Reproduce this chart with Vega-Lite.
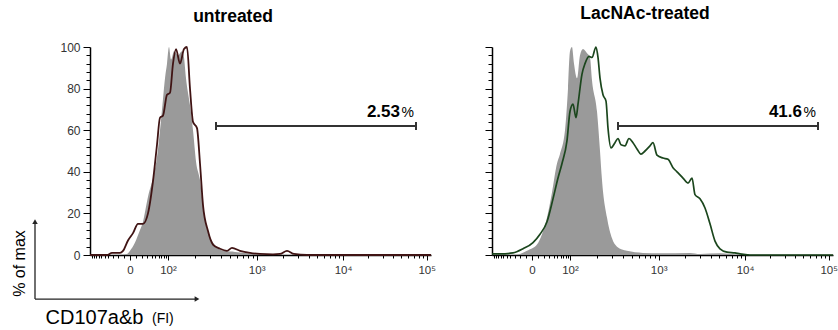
{
  "$schema": "https://vega.github.io/schema/vega-lite/v6.json",
  "background": "white",
  "padding": {"left": 11, "top": 4, "right": 2, "bottom": 2},
  "spacing": 61,
  "bounds": "flush",
  "config": {
    "font": "Liberation Sans",
    "view": {"stroke": null},
    "axis": {
      "grid": false,
      "domainColor": "#000000",
      "domainWidth": 1.5,
      "tickColor": "#000000",
      "tickWidth": 1,
      "labelFont": "Liberation Sans",
      "labelFontSize": 11.5,
      "labelColor": "#333333",
      "labelOverlap": false,
      "labelFlush": false,
      "titleFont": "Liberation Sans",
      "titleFontWeight": "normal",
      "titleColor": "#000000"
    },
    "title": {
      "font": "Liberation Sans",
      "fontSize": 17.5,
      "fontWeight": "bold",
      "color": "#000000",
      "anchor": "middle",
      "frame": "group",
      "baseline": "bottom"
    }
  },
  "datasets": {
    "hist": [
      {"panel": "untreated", "series": "control", "ch": 0, "pct": 0},
      {"panel": "untreated", "series": "control", "ch": 90, "pct": 0},
      {"panel": "untreated", "series": "control", "ch": 111, "pct": 0.5},
      {"panel": "untreated", "series": "control", "ch": 120, "pct": 2},
      {"panel": "untreated", "series": "control", "ch": 135, "pct": 6},
      {"panel": "untreated", "series": "control", "ch": 150, "pct": 12},
      {"panel": "untreated", "series": "control", "ch": 159, "pct": 16},
      {"panel": "untreated", "series": "control", "ch": 174, "pct": 28},
      {"panel": "untreated", "series": "control", "ch": 189, "pct": 37},
      {"panel": "untreated", "series": "control", "ch": 201, "pct": 47},
      {"panel": "untreated", "series": "control", "ch": 210, "pct": 60},
      {"panel": "untreated", "series": "control", "ch": 219, "pct": 75},
      {"panel": "untreated", "series": "control", "ch": 225, "pct": 85},
      {"panel": "untreated", "series": "control", "ch": 231, "pct": 92},
      {"panel": "untreated", "series": "control", "ch": 237, "pct": 100},
      {"panel": "untreated", "series": "control", "ch": 243, "pct": 94},
      {"panel": "untreated", "series": "control", "ch": 252, "pct": 98},
      {"panel": "untreated", "series": "control", "ch": 264, "pct": 96},
      {"panel": "untreated", "series": "control", "ch": 276, "pct": 98},
      {"panel": "untreated", "series": "control", "ch": 282, "pct": 95},
      {"panel": "untreated", "series": "control", "ch": 288, "pct": 85},
      {"panel": "untreated", "series": "control", "ch": 300, "pct": 72},
      {"panel": "untreated", "series": "control", "ch": 309, "pct": 60},
      {"panel": "untreated", "series": "control", "ch": 318, "pct": 45},
      {"panel": "untreated", "series": "control", "ch": 330, "pct": 36},
      {"panel": "untreated", "series": "control", "ch": 342, "pct": 20},
      {"panel": "untreated", "series": "control", "ch": 354, "pct": 11},
      {"panel": "untreated", "series": "control", "ch": 369, "pct": 6},
      {"panel": "untreated", "series": "control", "ch": 384, "pct": 3},
      {"panel": "untreated", "series": "control", "ch": 405, "pct": 2},
      {"panel": "untreated", "series": "control", "ch": 435, "pct": 1.5},
      {"panel": "untreated", "series": "control", "ch": 465, "pct": 1},
      {"panel": "untreated", "series": "control", "ch": 510, "pct": 0.5},
      {"panel": "untreated", "series": "control", "ch": 540, "pct": 0},
      {"panel": "untreated", "series": "control", "ch": 1023, "pct": 0},

      {"panel": "untreated", "series": "sample", "ch": 0, "pct": 0},
      {"panel": "untreated", "series": "sample", "ch": 51, "pct": 0},
      {"panel": "untreated", "series": "sample", "ch": 66, "pct": 1},
      {"panel": "untreated", "series": "sample", "ch": 90, "pct": 1},
      {"panel": "untreated", "series": "sample", "ch": 99, "pct": 2},
      {"panel": "untreated", "series": "sample", "ch": 114, "pct": 7},
      {"panel": "untreated", "series": "sample", "ch": 129, "pct": 10.5},
      {"panel": "untreated", "series": "sample", "ch": 144, "pct": 15},
      {"panel": "untreated", "series": "sample", "ch": 159, "pct": 15},
      {"panel": "untreated", "series": "sample", "ch": 174, "pct": 20},
      {"panel": "untreated", "series": "sample", "ch": 189, "pct": 35.5},
      {"panel": "untreated", "series": "sample", "ch": 201, "pct": 53},
      {"panel": "untreated", "series": "sample", "ch": 210, "pct": 66},
      {"panel": "untreated", "series": "sample", "ch": 219, "pct": 67},
      {"panel": "untreated", "series": "sample", "ch": 231, "pct": 77},
      {"panel": "untreated", "series": "sample", "ch": 240, "pct": 78},
      {"panel": "untreated", "series": "sample", "ch": 249, "pct": 92},
      {"panel": "untreated", "series": "sample", "ch": 258, "pct": 99},
      {"panel": "untreated", "series": "sample", "ch": 270, "pct": 92},
      {"panel": "untreated", "series": "sample", "ch": 282, "pct": 99},
      {"panel": "untreated", "series": "sample", "ch": 291, "pct": 100},
      {"panel": "untreated", "series": "sample", "ch": 300, "pct": 80},
      {"panel": "untreated", "series": "sample", "ch": 309, "pct": 64},
      {"panel": "untreated", "series": "sample", "ch": 321, "pct": 61},
      {"panel": "untreated", "series": "sample", "ch": 330, "pct": 44},
      {"panel": "untreated", "series": "sample", "ch": 339, "pct": 24},
      {"panel": "untreated", "series": "sample", "ch": 354, "pct": 11.5},
      {"panel": "untreated", "series": "sample", "ch": 369, "pct": 5},
      {"panel": "untreated", "series": "sample", "ch": 390, "pct": 3},
      {"panel": "untreated", "series": "sample", "ch": 411, "pct": 2},
      {"panel": "untreated", "series": "sample", "ch": 426, "pct": 3.4},
      {"panel": "untreated", "series": "sample", "ch": 450, "pct": 2},
      {"panel": "untreated", "series": "sample", "ch": 480, "pct": 1},
      {"panel": "untreated", "series": "sample", "ch": 510, "pct": 0.5},
      {"panel": "untreated", "series": "sample", "ch": 549, "pct": 0.3},
      {"panel": "untreated", "series": "sample", "ch": 570, "pct": 0.5},
      {"panel": "untreated", "series": "sample", "ch": 591, "pct": 2},
      {"panel": "untreated", "series": "sample", "ch": 612, "pct": 0.5},
      {"panel": "untreated", "series": "sample", "ch": 651, "pct": 0},
      {"panel": "untreated", "series": "sample", "ch": 1023, "pct": 0},

      {"panel": "LacNAc-treated", "series": "control", "ch": 0, "pct": 0},
      {"panel": "LacNAc-treated", "series": "control", "ch": 69, "pct": 0},
      {"panel": "LacNAc-treated", "series": "control", "ch": 84, "pct": 0.5},
      {"panel": "LacNAc-treated", "series": "control", "ch": 105, "pct": 2},
      {"panel": "LacNAc-treated", "series": "control", "ch": 135, "pct": 5},
      {"panel": "LacNAc-treated", "series": "control", "ch": 150, "pct": 10},
      {"panel": "LacNAc-treated", "series": "control", "ch": 165, "pct": 18},
      {"panel": "LacNAc-treated", "series": "control", "ch": 180, "pct": 30},
      {"panel": "LacNAc-treated", "series": "control", "ch": 195, "pct": 44},
      {"panel": "LacNAc-treated", "series": "control", "ch": 204, "pct": 48.5},
      {"panel": "LacNAc-treated", "series": "control", "ch": 219, "pct": 60},
      {"panel": "LacNAc-treated", "series": "control", "ch": 228, "pct": 80},
      {"panel": "LacNAc-treated", "series": "control", "ch": 234, "pct": 98},
      {"panel": "LacNAc-treated", "series": "control", "ch": 240, "pct": 100},
      {"panel": "LacNAc-treated", "series": "control", "ch": 246, "pct": 92},
      {"panel": "LacNAc-treated", "series": "control", "ch": 255, "pct": 85},
      {"panel": "LacNAc-treated", "series": "control", "ch": 264, "pct": 96},
      {"panel": "LacNAc-treated", "series": "control", "ch": 273, "pct": 99},
      {"panel": "LacNAc-treated", "series": "control", "ch": 285, "pct": 97},
      {"panel": "LacNAc-treated", "series": "control", "ch": 294, "pct": 95},
      {"panel": "LacNAc-treated", "series": "control", "ch": 300, "pct": 84},
      {"panel": "LacNAc-treated", "series": "control", "ch": 315, "pct": 69},
      {"panel": "LacNAc-treated", "series": "control", "ch": 324, "pct": 50},
      {"panel": "LacNAc-treated", "series": "control", "ch": 330, "pct": 36},
      {"panel": "LacNAc-treated", "series": "control", "ch": 345, "pct": 18},
      {"panel": "LacNAc-treated", "series": "control", "ch": 360, "pct": 8},
      {"panel": "LacNAc-treated", "series": "control", "ch": 375, "pct": 4},
      {"panel": "LacNAc-treated", "series": "control", "ch": 405, "pct": 2},
      {"panel": "LacNAc-treated", "series": "control", "ch": 453, "pct": 1},
      {"panel": "LacNAc-treated", "series": "control", "ch": 504, "pct": 0.8},
      {"panel": "LacNAc-treated", "series": "control", "ch": 594, "pct": 1},
      {"panel": "LacNAc-treated", "series": "control", "ch": 624, "pct": 0.5},
      {"panel": "LacNAc-treated", "series": "control", "ch": 684, "pct": 0.8},
      {"panel": "LacNAc-treated", "series": "control", "ch": 744, "pct": 0},
      {"panel": "LacNAc-treated", "series": "control", "ch": 1023, "pct": 0},

      {"panel": "LacNAc-treated", "series": "sample", "ch": 0, "pct": 0.5},
      {"panel": "LacNAc-treated", "series": "sample", "ch": 24, "pct": 0.5},
      {"panel": "LacNAc-treated", "series": "sample", "ch": 63, "pct": 1},
      {"panel": "LacNAc-treated", "series": "sample", "ch": 93, "pct": 3},
      {"panel": "LacNAc-treated", "series": "sample", "ch": 123, "pct": 6},
      {"panel": "LacNAc-treated", "series": "sample", "ch": 144, "pct": 10},
      {"panel": "LacNAc-treated", "series": "sample", "ch": 165, "pct": 16},
      {"panel": "LacNAc-treated", "series": "sample", "ch": 183, "pct": 27},
      {"panel": "LacNAc-treated", "series": "sample", "ch": 198, "pct": 37},
      {"panel": "LacNAc-treated", "series": "sample", "ch": 210, "pct": 44},
      {"panel": "LacNAc-treated", "series": "sample", "ch": 225, "pct": 55},
      {"panel": "LacNAc-treated", "series": "sample", "ch": 234, "pct": 69},
      {"panel": "LacNAc-treated", "series": "sample", "ch": 243, "pct": 72.5},
      {"panel": "LacNAc-treated", "series": "sample", "ch": 252, "pct": 66},
      {"panel": "LacNAc-treated", "series": "sample", "ch": 258, "pct": 72.5},
      {"panel": "LacNAc-treated", "series": "sample", "ch": 270, "pct": 87},
      {"panel": "LacNAc-treated", "series": "sample", "ch": 279, "pct": 92},
      {"panel": "LacNAc-treated", "series": "sample", "ch": 291, "pct": 95.5},
      {"panel": "LacNAc-treated", "series": "sample", "ch": 300, "pct": 95},
      {"panel": "LacNAc-treated", "series": "sample", "ch": 312, "pct": 100},
      {"panel": "LacNAc-treated", "series": "sample", "ch": 318, "pct": 95},
      {"panel": "LacNAc-treated", "series": "sample", "ch": 324, "pct": 85},
      {"panel": "LacNAc-treated", "series": "sample", "ch": 333, "pct": 77},
      {"panel": "LacNAc-treated", "series": "sample", "ch": 342, "pct": 74},
      {"panel": "LacNAc-treated", "series": "sample", "ch": 348, "pct": 61},
      {"panel": "LacNAc-treated", "series": "sample", "ch": 357, "pct": 51.5},
      {"panel": "LacNAc-treated", "series": "sample", "ch": 369, "pct": 54},
      {"panel": "LacNAc-treated", "series": "sample", "ch": 378, "pct": 56},
      {"panel": "LacNAc-treated", "series": "sample", "ch": 387, "pct": 53},
      {"panel": "LacNAc-treated", "series": "sample", "ch": 399, "pct": 52.5},
      {"panel": "LacNAc-treated", "series": "sample", "ch": 411, "pct": 56},
      {"panel": "LacNAc-treated", "series": "sample", "ch": 423, "pct": 54},
      {"panel": "LacNAc-treated", "series": "sample", "ch": 435, "pct": 51},
      {"panel": "LacNAc-treated", "series": "sample", "ch": 447, "pct": 48.5},
      {"panel": "LacNAc-treated", "series": "sample", "ch": 459, "pct": 50},
      {"panel": "LacNAc-treated", "series": "sample", "ch": 474, "pct": 52.5},
      {"panel": "LacNAc-treated", "series": "sample", "ch": 483, "pct": 54},
      {"panel": "LacNAc-treated", "series": "sample", "ch": 495, "pct": 48},
      {"panel": "LacNAc-treated", "series": "sample", "ch": 513, "pct": 46.6},
      {"panel": "LacNAc-treated", "series": "sample", "ch": 528, "pct": 46},
      {"panel": "LacNAc-treated", "series": "sample", "ch": 543, "pct": 42},
      {"panel": "LacNAc-treated", "series": "sample", "ch": 555, "pct": 40},
      {"panel": "LacNAc-treated", "series": "sample", "ch": 573, "pct": 37},
      {"panel": "LacNAc-treated", "series": "sample", "ch": 588, "pct": 34.6},
      {"panel": "LacNAc-treated", "series": "sample", "ch": 600, "pct": 37},
      {"panel": "LacNAc-treated", "series": "sample", "ch": 609, "pct": 29},
      {"panel": "LacNAc-treated", "series": "sample", "ch": 624, "pct": 27},
      {"panel": "LacNAc-treated", "series": "sample", "ch": 639, "pct": 22.6},
      {"panel": "LacNAc-treated", "series": "sample", "ch": 654, "pct": 15},
      {"panel": "LacNAc-treated", "series": "sample", "ch": 669, "pct": 6.7},
      {"panel": "LacNAc-treated", "series": "sample", "ch": 684, "pct": 3},
      {"panel": "LacNAc-treated", "series": "sample", "ch": 705, "pct": 1.4},
      {"panel": "LacNAc-treated", "series": "sample", "ch": 729, "pct": 1},
      {"panel": "LacNAc-treated", "series": "sample", "ch": 744, "pct": 0.5},
      {"panel": "LacNAc-treated", "series": "sample", "ch": 774, "pct": 0},
      {"panel": "LacNAc-treated", "series": "sample", "ch": 1023, "pct": 0}
    ],
    "gates": [
      {"panel": "untreated", "ch": 378, "ch2": 978, "pct": 62, "freq": "2.53"},
      {"panel": "LacNAc-treated", "ch": 378, "ch2": 978, "pct": 62, "freq": "41.6"}
    ],
    "axisKey": [
      {"dir": "up", "ch": -165, "pct": -21.2, "ch2": -165, "pct2": 16},
      {"dir": "right", "ch": -165, "pct": -21.2, "ch2": 321, "pct2": -21.2}
    ]
  },
  "hconcat": [
    {
      "width": 341,
      "height": 208,
      "title": {"text": "untreated", "dx": -27.5, "offset": 16},
      "encoding": {
        "x": {
          "field": "ch",
          "type": "quantitative",
          "scale": {"domain": [0, 1023], "nice": false, "zero": false},
          "axis": {
            "values": [6, 12, 18, 26, 34, 44, 55, 68, 83, 101, 120, 139, 157, 172, 185, 196, 206, 214, 222, 228, 234, 314, 361, 394, 420, 441, 459, 474, 488, 500, 578, 624, 656, 681, 701, 719, 734, 747, 759, 835, 879, 910, 934, 954, 971, 986, 998, 1010],
            "labelExpr": "datum.value === 120 ? '0' : datum.value === 234 ? '10²' : datum.value === 500 ? '10³' : datum.value === 759 ? '10⁴' : datum.value === 1010 ? '10⁵' : ''",
            "tickSize": {"condition": {"test": "indexof([120, 234, 500, 759, 1010], datum.value) >= 0", "value": 5}, "value": 3},
            "labelPadding": 4,
            "title": "CD107a&b",
            "titleFontSize": 20,
            "titleX": -45,
            "titleY": 68,
            "titleAlign": "left",
            "titleBaseline": "alphabetic"
          }
        },
        "y": {
          "field": "pct",
          "type": "quantitative",
          "scale": {"domain": [0, 100], "nice": false},
          "axis": {
            "values": [0, 4, 8, 12, 16, 20, 24, 28, 32, 36, 40, 44, 48, 52, 56, 60, 64, 68, 72, 76, 80, 84, 88, 92, 96, 100],
            "labelExpr": "datum.value % 20 === 0 ? datum.label : ''",
            "tickSize": {"condition": {"test": "datum.value % 20 === 0", "value": 7}, "value": 4},
            "labelPadding": 3,
            "labelFontSize": 12,
            "title": "% of max",
            "titleFontSize": 16,
            "titleAngle": 270,
            "titleX": -71,
            "titleY": 216,
            "titleAlign": "center",
            "titleBaseline": "middle"
          }
        }
      },
      "layer": [
        {
          "data": {"name": "hist"},
          "transform": [{"filter": "datum.panel === 'untreated' && datum.series === 'control'"}],
          "mark": {"type": "area", "color": "#9a9a9a", "interpolate": "monotone"}
        },
        {
          "data": {"name": "hist"},
          "transform": [{"filter": "datum.panel === 'untreated' && datum.series === 'sample'"}],
          "mark": {"type": "line", "color": "#401414", "strokeWidth": 1.8, "interpolate": "monotone"}
        },
        {
          "data": {"name": "gates"},
          "transform": [{"filter": "datum.panel === 'untreated'"}],
          "mark": {"type": "rule", "color": "#333333", "strokeWidth": 2},
          "encoding": {"x2": {"field": "ch2"}}
        },
        {
          "data": {"name": "gates"},
          "transform": [{"filter": "datum.panel === 'untreated'"}, {"fold": ["ch", "ch2"], "as": ["end", "ch"]}],
          "mark": {"type": "point", "shape": "stroke", "angle": 90, "size": 64, "filled": false, "color": "#333333", "strokeWidth": 2, "opacity": 1}
        },
        {
          "data": {"name": "gates"},
          "transform": [{"filter": "datum.panel === 'untreated'"}],
          "mark": {"type": "text", "align": "right", "baseline": "alphabetic", "dx": -16, "dy": -9, "fontSize": 17, "fontWeight": "bold", "color": "#000000"},
          "encoding": {"x": {"field": "ch2", "type": "quantitative"}, "text": {"field": "freq"}}
        },
        {
          "data": {"name": "gates"},
          "transform": [{"filter": "datum.panel === 'untreated'"}],
          "mark": {"type": "text", "align": "right", "baseline": "alphabetic", "dx": -2, "dy": -9, "fontSize": 14, "color": "#000000"},
          "encoding": {"x": {"field": "ch2", "type": "quantitative"}, "text": {"value": "%"}}
        },
        {
          "data": {"name": "axisKey"},
          "mark": {"type": "rule", "color": "#222222", "strokeWidth": 1.3, "clip": false},
          "encoding": {"x2": {"field": "ch2"}, "y2": {"field": "pct2"}}
        },
        {
          "data": {"name": "axisKey"},
          "mark": {"type": "point", "filled": true, "size": 30, "color": "#222222", "opacity": 1, "clip": false},
          "encoding": {
            "x": {"field": "ch2", "type": "quantitative"},
            "y": {"field": "pct2", "type": "quantitative"},
            "shape": {"field": "dir", "type": "nominal", "scale": {"domain": ["up", "right"], "range": ["triangle-up", "triangle-right"]}, "legend": null}
          }
        },
        {
          "data": {"values": [{"ch": 186, "pct": -32.7, "unit": "(FI)"}]},
          "mark": {"type": "text", "align": "left", "baseline": "alphabetic", "fontSize": 14, "color": "#000000", "clip": false},
          "encoding": {"text": {"field": "unit"}}
        }
      ]
    },
    {
      "width": 341,
      "height": 208,
      "title": {"text": "LacNAc-treated", "dx": -17.5, "offset": 21.5},
      "encoding": {
        "x": {
          "field": "ch",
          "type": "quantitative",
          "scale": {"domain": [0, 1023], "nice": false, "zero": false},
          "axis": {
            "values": [6, 12, 18, 26, 34, 44, 55, 68, 83, 101, 120, 139, 157, 172, 185, 196, 206, 214, 222, 228, 234, 314, 361, 394, 420, 441, 459, 474, 488, 500, 578, 624, 656, 681, 701, 719, 734, 747, 759, 835, 879, 910, 934, 954, 971, 986, 998, 1010],
            "labelExpr": "datum.value === 120 ? '0' : datum.value === 234 ? '10²' : datum.value === 500 ? '10³' : datum.value === 759 ? '10⁴' : datum.value === 1010 ? '10⁵' : ''",
            "tickSize": {"condition": {"test": "indexof([120, 234, 500, 759, 1010], datum.value) >= 0", "value": 5}, "value": 3},
            "labelPadding": 4,
            "title": null
          }
        },
        "y": {
          "field": "pct",
          "type": "quantitative",
          "scale": {"domain": [0, 100], "nice": false},
          "axis": {
            "values": [0, 4, 8, 12, 16, 20, 24, 28, 32, 36, 40, 44, 48, 52, 56, 60, 64, 68, 72, 76, 80, 84, 88, 92, 96, 100],
            "labels": false,
            "tickSize": {"condition": {"test": "datum.value % 20 === 0", "value": 7}, "value": 4},
            "title": null
          }
        }
      },
      "layer": [
        {
          "data": {"name": "hist"},
          "transform": [{"filter": "datum.panel === 'LacNAc-treated' && datum.series === 'control'"}],
          "mark": {"type": "area", "color": "#9a9a9a", "interpolate": "monotone"}
        },
        {
          "data": {"name": "hist"},
          "transform": [{"filter": "datum.panel === 'LacNAc-treated' && datum.series === 'sample'"}],
          "mark": {"type": "line", "color": "#1b461d", "strokeWidth": 1.7, "interpolate": "monotone"}
        },
        {
          "data": {"name": "gates"},
          "transform": [{"filter": "datum.panel === 'LacNAc-treated'"}],
          "mark": {"type": "rule", "color": "#333333", "strokeWidth": 2},
          "encoding": {"x2": {"field": "ch2"}}
        },
        {
          "data": {"name": "gates"},
          "transform": [{"filter": "datum.panel === 'LacNAc-treated'"}, {"fold": ["ch", "ch2"], "as": ["end", "ch"]}],
          "mark": {"type": "point", "shape": "stroke", "angle": 90, "size": 64, "filled": false, "color": "#333333", "strokeWidth": 2, "opacity": 1}
        },
        {
          "data": {"name": "gates"},
          "transform": [{"filter": "datum.panel === 'LacNAc-treated'"}],
          "mark": {"type": "text", "align": "right", "baseline": "alphabetic", "dx": -16, "dy": -9, "fontSize": 17, "fontWeight": "bold", "color": "#000000"},
          "encoding": {"x": {"field": "ch2", "type": "quantitative"}, "text": {"field": "freq"}}
        },
        {
          "data": {"name": "gates"},
          "transform": [{"filter": "datum.panel === 'LacNAc-treated'"}],
          "mark": {"type": "text", "align": "right", "baseline": "alphabetic", "dx": -2, "dy": -9, "fontSize": 14, "color": "#000000"},
          "encoding": {"x": {"field": "ch2", "type": "quantitative"}, "text": {"value": "%"}}
        }
      ]
    }
  ]
}
